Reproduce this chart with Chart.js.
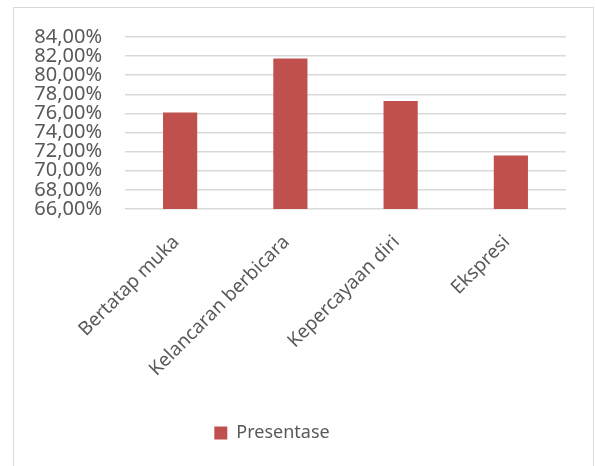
<!DOCTYPE html>
<html>
<head>
<meta charset="utf-8">
<script src="https://cdn.jsdelivr.net/npm/chart.js@4"></script>
<style>
  html, body { margin: 0; padding: 0; background: #fff; overflow: hidden; }
  #frame {
    position: absolute; left: 13px; top: 7px;
    width: 579px; height: 470px;
    border: 1px solid #d9d9d9;
  }
  #chart { display: block; }
</style>
</head>
<body>
<div id="frame"><canvas id="chart" width="579" height="459"></canvas></div>
<script>
// data
const categories = ['Bertatap muka', 'Kelancaran berbicara', 'Kepercayaan diri', 'Ekspresi'];
const seriesName = 'Presentase';
const presentase = [76.1, 81.75, 77.3, 71.6];
const yMin = 66;
const yMax = 84;
const yStep = 2;

const textColor = '#595959';
const fontFamily = '"Noto Sans", sans-serif';

// move the legend a bit left, like in the original
const legendShift = {
    id: 'legendShift',
    afterLayout(chart) {
        const lg = chart.legend;
        lg.left -= 18;
        lg.right -= 18;
    }
};

const ctx = document.getElementById('chart');
new Chart(ctx, {
    type: 'bar',
    data: {
        labels: categories,
        datasets: [{
            label: seriesName,
            data: presentase,
            backgroundColor: '#C0504D',
            borderWidth: 0,
            barPercentage: 0.31,
            categoryPercentage: 1
        }]
    },
    options: {
        responsive: false,
        animation: false,
        layout: { padding: { top: 29, right: 27, bottom: 15, left: 0 } },
        plugins: {
            legend: {
                position: 'bottom',
                labels: {
                    boxWidth: 13,
                    boxHeight: 13,
                    padding: 10,
                    color: textColor,
                    font: { family: fontFamily, size: 18 }
                }
            },
            tooltip: { enabled: false }
        },
        scales: {
            x: {
                grid: { display: false, drawTicks: false },
                border: { display: false },
                ticks: {
                    color: textColor,
                    font: { family: fontFamily, size: 19 },
                    minRotation: 45,
                    maxRotation: 45,
                    padding: 22,
                    labelOffset: -4,
                    autoSkip: false
                },
                afterFit(scale) { scale.height = 205; }
            },
            y: {
                min: yMin,
                max: yMax,
                grid: { color: '#d9d9d9', lineWidth: 1.5, drawTicks: false },
                border: { display: false },
                ticks: {
                    stepSize: yStep,
                    autoSkip: false,
                    color: textColor,
                    font: { family: fontFamily, size: 20 },
                    padding: 23,
                    callback: v => v.toFixed(2).replace('.', ',') + '%'
                },
                afterFit(scale) {
                    scale.width = 111;
                    scale.paddingTop = 0;
                    scale.paddingBottom = 0;
                }
            }
        }
    },
    plugins: [legendShift]
});
</script>
</body>
</html>
